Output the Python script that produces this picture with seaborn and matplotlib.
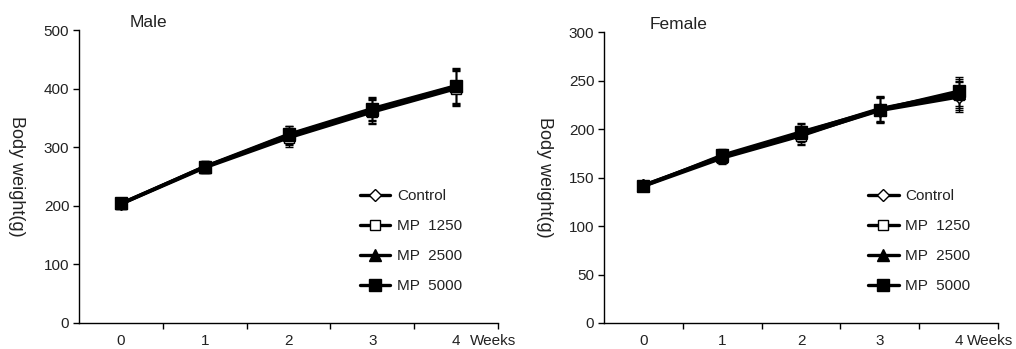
import numpy as np
import pandas as pd
import matplotlib
matplotlib.use("Agg")
import matplotlib.pyplot as plt
import seaborn as sns

sns.set_style("white")
plt.rcParams['font.family'] = ['Liberation Sans', 'DejaVu Sans']

weeks = [0, 1, 2, 3, 4]
groups = ["Control", "MP  1250", "MP  2500", "MP  5000"]

male_control = [203, 267, 318, 362, 402]
male_mp1250 = [203, 265, 316, 360, 400]
male_mp2500 = [204, 266, 321, 364, 404]
male_mp5000 = [204, 267, 322, 366, 405]
male_err = [5, 9, 15, 20, 30]

female_control = [142, 171, 194, 219, 233]
female_mp1250 = [141, 170, 193, 220, 235]
female_mp2500 = [142, 172, 196, 221, 237]
female_mp5000 = [141, 173, 197, 220, 239]
female_err = [4, 6, 9, 13, 15]

markers = ["D", "s", "^", "s"]
facecolors = ["white", "white", "black", "black"]
msizes = [6, 7, 8, 8.5]

fig = plt.figure(figsize=(10.16, 3.49), dpi=100)
axL = fig.add_axes([0.0778, 0.0745, 0.4124, 0.8395])
axR = fig.add_axes([0.5945, 0.0745, 0.3878, 0.8338])

panels = [
    (axL, "Male", [male_control, male_mp1250, male_mp2500, male_mp5000], male_err, 500, 100, 0.165, 0.67, 0.457, 4.17),
    (axR, "Female", [female_control, female_mp1250, female_mp2500, female_mp5000], female_err, 300, 50, 0.19, 0.67, 0.46, 4.11),
]

for ax, title, series, err, ymax, ystep, tx, lx, ly, wx in panels:
    for name, vals, m, fc, ms in zip(groups, series, markers, facecolors, msizes):
        ax.errorbar(weeks, vals, yerr=err, fmt='none', ecolor='black',
                    elinewidth=1.0, capsize=3, capthick=1.0, zorder=1)
        sns.lineplot(x=weeks, y=vals, ax=ax, color='black', linewidth=2.4,
                     marker=m, markersize=ms, markerfacecolor=fc,
                     markeredgecolor='black', markeredgewidth=1.0, label=name,
                     zorder=3)
    ax.set_xlim(-0.5, 4.5)
    ax.set_ylim(0, ymax)
    ax.set_yticks(np.arange(0, ymax + 1, ystep))
    ax.set_xticks([0.5, 1.5, 2.5, 3.5, 4.5])
    ax.set_xticklabels([])
    ax.set_xticks(weeks, minor=True)
    ax.set_xticklabels(["0", "1", "2", "3", "4"], minor=True)
    ax.tick_params(axis='x', which='major', direction='out', length=4, width=1, color='black', bottom=True)
    ax.tick_params(axis='x', which='minor', length=0, pad=8, labelsize=11, colors='#222222', bottom=True)
    ax.tick_params(axis='y', direction='out', length=4, width=1, color='black', pad=3, labelsize=11, labelcolor='#222222', left=True)
    for s in ['top', 'right']:
        ax.spines[s].set_visible(False)
    for s in ['left', 'bottom']:
        ax.spines[s].set_color('black')
        ax.spines[s].set_linewidth(1.0)
    ax.set_xlabel("")
    ax.set_ylabel("Body weight(g)", rotation=270, fontsize=13, color='#222222', va='center', ha='center')
    ax.yaxis.set_label_coords(-0.15, 0.5)
    ax.text(tx, 1.0, title, transform=ax.transAxes, fontsize=12.5, color='#222222',
            ha='center', va='bottom')
    ax.annotate("Weeks", xy=(wx, 0), xycoords=('data', 'axes fraction'),
                xytext=(0, -8), textcoords='offset points', ha='left', va='top',
                fontsize=11, color='#222222')
    leg = ax.legend(loc='upper left', bbox_to_anchor=(lx, ly), frameon=False,
                    borderaxespad=0, borderpad=0, handlelength=2.0,
                    handletextpad=0.45, labelspacing=1.05, fontsize=11)
    for t in leg.get_texts():
        t.set_color('#222222')

fig.savefig("out.png", dpi=100)
